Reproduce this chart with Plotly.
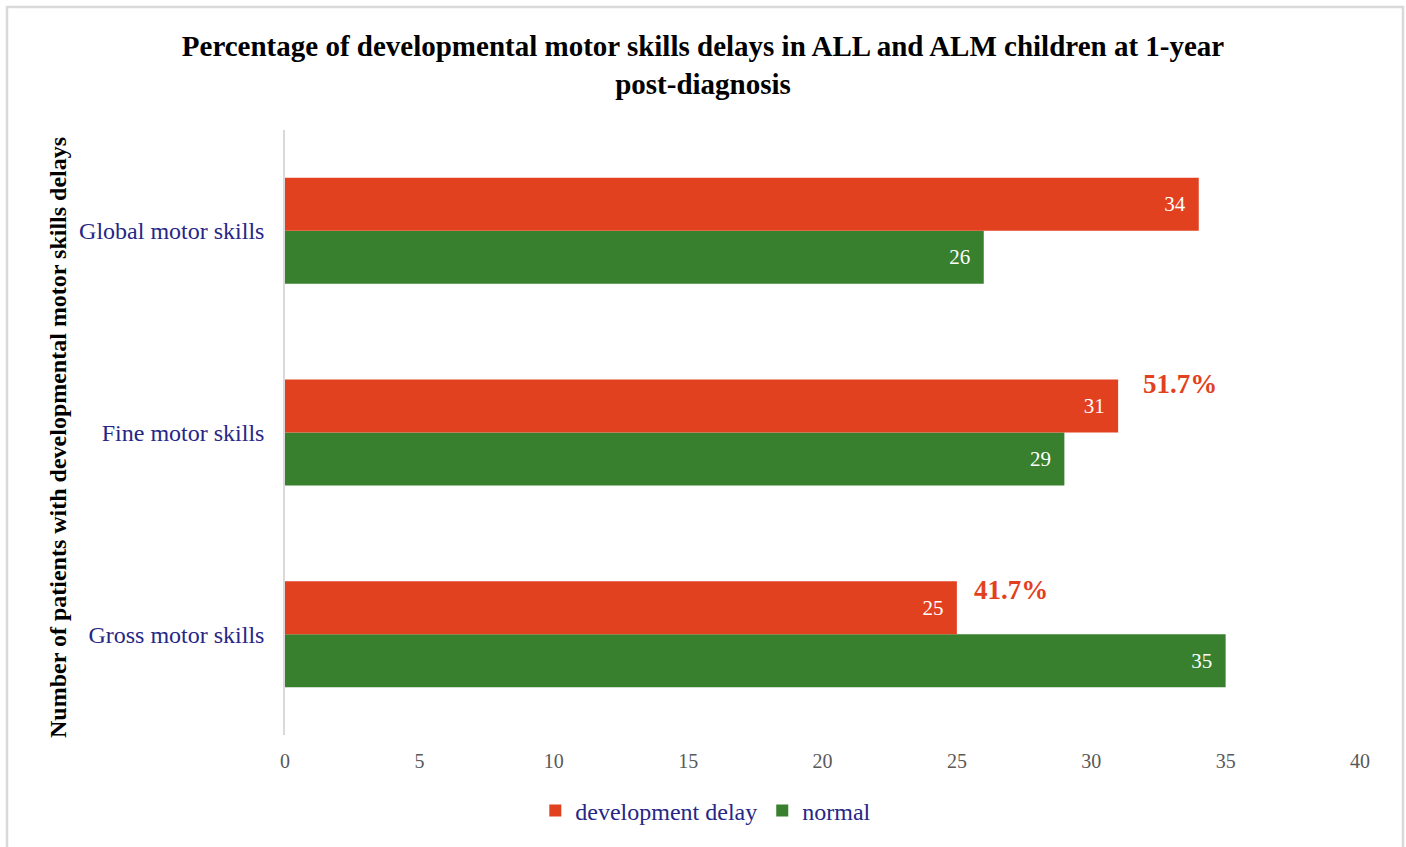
import plotly.graph_objects as go

# Data
skills = ["Gross motor skills", "Fine motor skills", "Global motor skills"]
delay_counts = [25, 31, 34]
normal_counts = [35, 29, 26]
pct_labels = ["41.7%", "51.7%", None]
x_ticks = [0, 5, 10, 15, 20, 25, 30, 35, 40]

RED = "#E24120"
GREEN = "#38802E"
NAVY = "#262686"
SERIF = "Liberation Serif, Times New Roman, serif"

fig = go.Figure()

# Green trace first so the red bar sits on top within each group
fig.add_trace(go.Bar(
    y=skills, x=normal_counts, orientation="h", name="normal",
    marker=dict(color=GREEN, line=dict(width=0)),
    text=normal_counts, texttemplate="%{x}\u00a0\u00a0",
    textposition="inside", insidetextanchor="end",
    textfont=dict(family=SERIF, size=21, color="white"),
))
fig.add_trace(go.Bar(
    y=skills, x=delay_counts, orientation="h", name="development delay",
    marker=dict(color=RED, line=dict(width=0)),
    text=delay_counts, texttemplate="%{x}\u00a0\u00a0",
    textposition="inside", insidetextanchor="end",
    textfont=dict(family=SERIF, size=21, color="white"),
))

# Percentage callouts above the delay bars
pct_pos = {"41.7%": (27.0, 0.22), "51.7%": (33.3, 1.24)}
for lab in pct_labels:
    if lab is None:
        continue
    px, py = pct_pos[lab]
    fig.add_annotation(
        x=px, y=py, xref="x", yref="y", text=f"<b>{lab}</b>", showarrow=False,
        font=dict(family=SERIF, size=27, color=RED),
        xanchor="center", yanchor="middle",
    )

# Rotated y-axis title
fig.add_annotation(
    x=(58 - 285) / 1075, y=(735 - 438) / 605, xref="paper", yref="paper",
    text="<b>Number of patients with developmental motor skills delays</b>",
    textangle=-90, showarrow=False,
    font=dict(family=SERIF, size=24, color="black"),
    xanchor="center", yanchor="middle",
)

# Outer chart border
fig.add_shape(
    type="rect", xref="paper", yref="paper",
    x0=(7 - 285) / 1075, x1=(1403 - 285) / 1075,
    y0=(735 - 852) / 605, y1=(735 - 7) / 605,
    line=dict(color="#D9D9D9", width=2.5), fillcolor="rgba(0,0,0,0)",
    layer="below",
)

fig.update_layout(
    width=1406, height=847,
    margin=dict(l=285, r=46, t=130, b=112),
    paper_bgcolor="white", plot_bgcolor="white",
    barmode="group", bargap=0.474, bargroupgap=0,
    title=dict(
        text="<b>Percentage of developmental motor skills delays in ALL and ALM children at 1-year<br>post-diagnosis</b>",
        x=0.5, xref="container", xanchor="center",
        y=(847 - 56) / 847, yref="container", yanchor="middle",
        font=dict(family=SERIF, size=29, color="black"),
    ),
    xaxis=dict(
        range=[0, 40], tickvals=x_ticks, showgrid=False, zeroline=False,
        showline=False, ticks="", ticklabelstandoff=12,
        tickfont=dict(family=SERIF, size=20, color="#595959"),
    ),
    yaxis=dict(
        showgrid=False, zeroline=False, showline=True, linecolor="#D9D9D9",
        linewidth=1.5, ticks="", ticklabelstandoff=14,
        tickfont=dict(family=SERIF, size=24, color=NAVY),
        categoryorder="array", categoryarray=skills,
    ),
    legend=dict(
        orientation="h", traceorder="reversed",
        x=0.502, xref="container", xanchor="center",
        y=(847 - 811) / 847, yref="container", yanchor="middle",
        font=dict(family=SERIF, size=24, color=NAVY),
        itemwidth=30,
    ),
    showlegend=True,
)

fig.write_html("out.html")
